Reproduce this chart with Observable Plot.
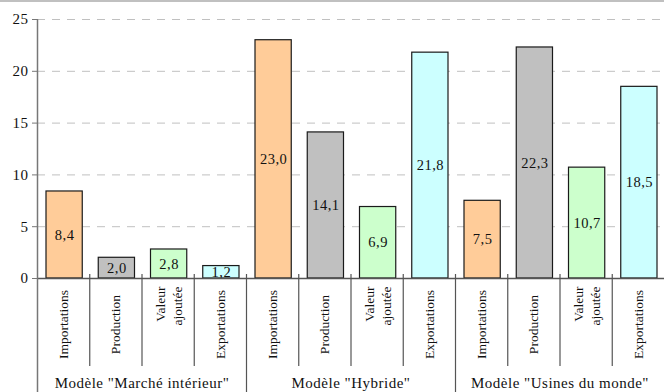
<!DOCTYPE html>
<html><head><meta charset="utf-8">
<script src="https://cdn.jsdelivr.net/npm/d3@7"></script>
<script src="https://cdn.jsdelivr.net/npm/@observablehq/plot@0.6"></script>
<style>
body{margin:0;background:#fff;}
#top{height:2px;background:#c0c0c0;width:664px;}
#chart svg text{letter-spacing:0.5px;}
#chart svg text[transform*="rotate"]{letter-spacing:0;}
</style></head><body>
<div id="top"></div><div id="chart"></div>
<script>
const groups = ['Modèle "Marché intérieur"', 'Modèle "Hybride"', 'Modèle "Usines du monde"'];
const categories = ["Importations", "Production", "Valeur\najoutée", "Exportations"];
const marcheInterieur = [8.4, 2.0, 2.8, 1.2];
const hybride = [23.0, 14.1, 6.9, 21.8];
const usinesDuMonde = [7.5, 22.3, 10.7, 18.5];
const colors = ["#FFCC99", "#C0C0C0", "#CCFFCC", "#CCFFFF"];
const yTicks = [0, 5, 10, 15, 20, 25];

const series = [marcheInterieur, hybride, usinesDuMonde];
const data = [];
groups.forEach((g, gi) => series[gi].forEach((v, ci) => data.push({
  group: g, category: categories[ci], value: v, i: gi * categories.length + ci, color: colors[ci]
})));
const n = data.length;
const boundaries = d3.range(1, n);
const inner = boundaries.filter(b => b % categories.length !== 0);
const outer = boundaries.filter(b => b % categories.length === 0);
const groupCenters = groups.map((g, gi) => ({group: g, x: gi * categories.length + categories.length / 2}));
const fmt = v => v.toFixed(1).replace(".", ",");

const plot = Plot.plot({
  width: 664, height: 390,
  marginTop: 17, marginBottom: 114, marginLeft: 37, marginRight: 0,
  style: {fontFamily: '"Liberation Serif", "Times New Roman", serif', fontSize: "14px", color: "#000", background: "#fff"},
  x: {domain: [0, n], axis: null},
  y: {domain: [0, 25], axis: null},
  color: {type: "identity"},
  marks: [
    Plot.ruleY(yTicks.filter(t => t > 0), {stroke: "#c0c0c0", strokeDasharray: "8,7", strokeWidth: 1}),
    Plot.rect(data, {x1: "i", x2: d => d.i + 1, y1: 0, y2: "value", fill: "color", stroke: "#1a1a1a", strokeWidth: 1.2, insetLeft: 9, insetRight: 7}),
    Plot.text(data, {x: d => d.i + 0.5, y: d => d.value / 2, text: d => fmt(d.value), fill: "#111", fontSize: 14.5, clip: "frame", dx: 1}),
    Plot.ruleY([0], {stroke: "#555", strokeWidth: 1.5}),
    Plot.ruleX([0], {y1: 25, y2: 0, insetBottom: -114, stroke: "#777", strokeWidth: 1.5}),
    Plot.ruleX(inner, {y1: 0, y2: 0, insetTop: -4, insetBottom: -88, stroke: "#555", strokeWidth: 1.2}),
    Plot.ruleX(outer, {y1: 0, y2: 0, insetTop: -4, insetBottom: -114, stroke: "#555", strokeWidth: 1.2}),
    Plot.axisY({ticks: yTicks, tickSize: 5, tickPadding: 4, label: null, stroke: "#777", fill: "#111", fontSize: 15}),
    Plot.text(data.filter(d => !d.category.includes("\n")), {x: d => d.i + 0.5, y: 0, dy: 46, rotate: -90, text: "category", fontSize: 13.5, textAnchor: "middle", fill: "#111"}),
    Plot.text(data.filter(d => d.category.includes("\n")), {x: d => d.i + 0.5, y: 0, dy: 8, rotate: -90, text: "category", fontSize: 13.5, textAnchor: "end", lineHeight: 1.25, fill: "#111"}),
    Plot.text(groupCenters, {x: "x", y: 0, dy: 105, text: "group", fontSize: 15, fill: "#111"})
  ]
});
document.getElementById("chart").appendChild(plot);
</script>
</body></html>
